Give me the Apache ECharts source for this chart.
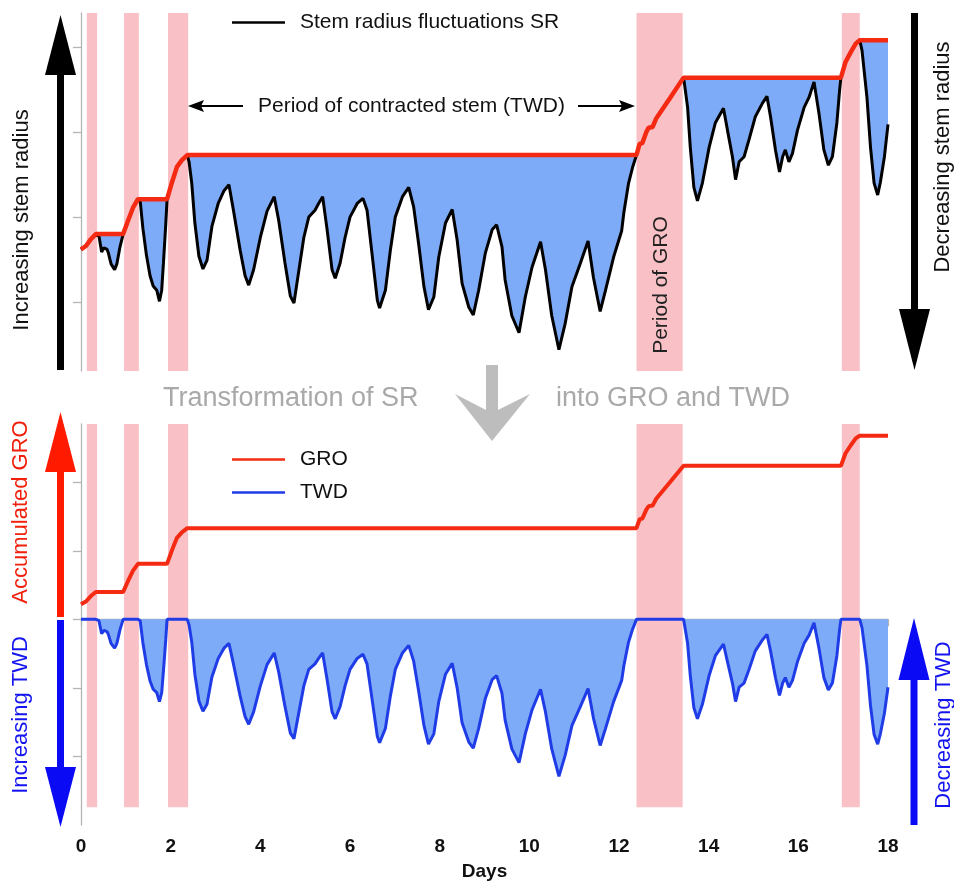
<!DOCTYPE html>
<html>
<head>
<meta charset="utf-8">
<title>Stem radius, GRO and TWD</title>
<script src="https://cdn.jsdelivr.net/npm/echarts@6/dist/echarts.min.js"></script>
<style>
  html, body { margin: 0; padding: 0; background: #fff; }
  #chart { width: 954px; height: 884px; }
</style>
</head>
<body>
<div id="chart"></div>
<script>
// days of the record (shared by SR and TWD)
const days = [
  0, 0.11, 0.22, 0.33, 0.40, 0.46, 0.51, 0.58, 0.61, 0.67,
  0.75, 0.80, 0.87, 0.94, 1.05, 1.16, 1.27, 1.32, 1.38, 1.46,
  1.54, 1.61, 1.69, 1.75, 1.80, 1.84, 1.89, 1.92, 2.03, 2.14,
  2.25, 2.37, 2.41, 2.47, 2.54, 2.63, 2.72, 2.81, 2.92, 3.06,
  3.19, 3.30, 3.40, 3.55, 3.66, 3.74, 3.85, 4.00, 4.15, 4.31,
  4.41, 4.55, 4.67, 4.75, 4.85, 4.97, 5.08, 5.22, 5.30, 5.39,
  5.49, 5.60, 5.67, 5.78, 5.89, 6.00, 6.16, 6.29, 6.38, 6.50,
  6.61, 6.66, 6.79, 6.90, 7.01, 7.17, 7.31, 7.42, 7.53, 7.65,
  7.75, 7.87, 7.98, 8.13, 8.28, 8.39, 8.50, 8.65, 8.75, 8.87,
  9.02, 9.17, 9.27, 9.39, 9.46, 9.61, 9.77, 9.91, 10.06, 10.25,
  10.36, 10.50, 10.66, 10.80, 10.95, 11.14, 11.31, 11.43, 11.58, 11.70,
  11.88, 12.06, 12.11, 12.21, 12.30, 12.39, 12.46, 12.52, 12.61, 12.66,
  12.75, 12.83, 13.15, 13.44, 13.48, 13.53, 13.59, 13.67, 13.75, 13.86,
  14.01, 14.15, 14.33, 14.42, 14.53, 14.60, 14.68, 14.79, 14.90, 15.04,
  15.20, 15.30, 15.38, 15.49, 15.58, 15.65, 15.71, 15.79, 15.87, 15.98,
  16.13, 16.24, 16.35, 16.46, 16.57, 16.67, 16.76, 16.86, 16.92, 16.95,
  17.05, 17.17, 17.28, 17.37, 17.42, 17.53, 17.61, 17.69, 17.77, 17.83,
  17.92, 18.00
];

// stem radius fluctuations SR (relative units)
const sr = [
  1.62, 1.66, 1.74, 1.80, 1.78, 1.59, 1.64, 1.62, 1.58, 1.45,
  1.38, 1.45, 1.65, 1.80, 1.96, 2.11, 2.21, 2.19, 1.87, 1.55,
  1.31, 1.19, 1.14, 1.01, 1.14, 1.47, 1.91, 2.21, 2.41, 2.59,
  2.67, 2.73, 2.65, 2.40, 1.93, 1.54, 1.39, 1.49, 1.89, 2.16,
  2.31, 2.38, 2.08, 1.61, 1.31, 1.20, 1.38, 1.76, 2.07, 2.24,
  1.96, 1.46, 1.07, 0.99, 1.34, 1.76, 2.00, 2.08, 2.16, 2.24,
  1.85, 1.38, 1.28, 1.46, 1.76, 2.00, 2.16, 2.22, 2.08, 1.53,
  1.02, 0.93, 1.14, 1.61, 2.00, 2.24, 2.35, 2.12, 1.69, 1.18,
  0.91, 1.06, 1.53, 1.93, 2.09, 1.73, 1.22, 0.94, 0.85, 1.14,
  1.58, 1.85, 1.91, 1.65, 1.26, 0.84, 0.64, 1.06, 1.41, 1.71,
  1.38, 0.84, 0.44, 0.75, 1.18, 1.46, 1.72, 1.29, 0.89, 1.14,
  1.53, 1.84, 2.06, 2.39, 2.58, 2.73, 2.86, 2.87, 3.00, 3.05,
  3.06, 3.16, 3.41, 3.64, 3.49, 3.29, 2.82, 2.35, 2.19, 2.40,
  2.82, 3.11, 3.28, 3.02, 2.71, 2.44, 2.65, 2.71, 2.91, 3.18,
  3.34, 3.42, 3.18, 2.79, 2.53, 2.71, 2.79, 2.65, 2.75, 3.02,
  3.29, 3.41, 3.59, 3.22, 2.79, 2.61, 2.71, 3.11, 3.49, 3.64,
  3.82, 3.94, 4.04, 4.08, 3.96, 3.41, 2.82, 2.40, 2.26, 2.41,
  2.71, 3.09
];

// tree water deficit TWD (same units, 0 = fully hydrated)
const twd = [
  0, 0, 0, 0, -0.02, -0.21, -0.16, -0.18, -0.22, -0.35,
  -0.42, -0.35, -0.15, 0, 0, 0, 0, -0.02, -0.34, -0.66,
  -0.90, -1.02, -1.07, -1.20, -1.07, -0.74, -0.30, 0, 0, 0,
  0, 0, -0.08, -0.33, -0.80, -1.19, -1.34, -1.24, -0.84, -0.57,
  -0.42, -0.35, -0.65, -1.12, -1.42, -1.53, -1.35, -0.97, -0.66, -0.49,
  -0.77, -1.27, -1.66, -1.74, -1.39, -0.97, -0.73, -0.65, -0.57, -0.49,
  -0.88, -1.35, -1.45, -1.27, -0.97, -0.73, -0.57, -0.51, -0.65, -1.20,
  -1.71, -1.80, -1.59, -1.12, -0.73, -0.49, -0.38, -0.61, -1.04, -1.55,
  -1.82, -1.67, -1.20, -0.80, -0.64, -1.00, -1.51, -1.79, -1.88, -1.59,
  -1.15, -0.88, -0.82, -1.08, -1.47, -1.89, -2.09, -1.67, -1.32, -1.02,
  -1.35, -1.89, -2.29, -1.98, -1.55, -1.27, -1.01, -1.44, -1.84, -1.59,
  -1.20, -0.89, -0.67, -0.34, -0.15, 0, 0, 0, 0, 0,
  0, 0, 0, 0, -0.15, -0.35, -0.82, -1.29, -1.45, -1.24,
  -0.82, -0.53, -0.36, -0.62, -0.93, -1.20, -0.99, -0.93, -0.73, -0.46,
  -0.30, -0.22, -0.46, -0.85, -1.11, -0.93, -0.85, -0.99, -0.89, -0.62,
  -0.35, -0.23, -0.05, -0.42, -0.85, -1.03, -0.93, -0.53, -0.15, 0,
  0, 0, 0, 0, -0.12, -0.67, -1.26, -1.68, -1.82, -1.67,
  -1.37, -0.99
];

// growth line GRO (running maximum of SR), breakpoints
const groDays = [0, 0.11, 0.22, 0.33, 0.94, 1.05, 1.16, 1.27, 1.92, 2.03, 2.14, 2.25, 2.37,
  12.39, 12.46, 12.52, 12.61, 12.66, 12.75, 12.83, 13.15, 13.44, 16.95, 17.05, 17.17, 17.28, 17.37, 18.00];
const groVals = [1.62, 1.66, 1.74, 1.80, 1.80, 1.96, 2.11, 2.21, 2.21, 2.41, 2.59, 2.67, 2.73,
  2.73, 2.86, 2.87, 3.00, 3.05, 3.06, 3.16, 3.41, 3.64, 3.64, 3.82, 3.94, 4.04, 4.08, 4.08];

// periods of growth (start day, end day)
const groPeriods = [[0.13, 0.36], [0.96, 1.29], [1.94, 2.39], [12.39, 13.42], [16.97, 17.37]];

const dayTicks = [0, 2, 4, 6, 8, 10, 12, 14, 16, 18];

const FONT = '"Liberation Sans", Arial, Helvetica, sans-serif';
const PINK = '#f9c0c6';
const FILL = '#7eabf7';
const RED = '#f52a12';
const BLUE = '#1f3ce6';
const AXIS = '#b4b4b4';

const srData = days.map((d, i) => [d, sr[i]]);
const twdData = days.map((d, i) => [d, twd[i]]);
const groData = groDays.map((d, i) => [d, groVals[i]]);

function bandRenderer(yTop, yBottom) {
  return function (params, api) {
    const a = api.coord([api.value(0), yTop]);
    const b = api.coord([api.value(1), yBottom]);
    return {
      type: 'rect',
      shape: { x: a[0], y: a[1], width: b[0] - a[0], height: b[1] - a[1] },
      style: { fill: PINK }
    };
  };
}

// decoration helpers (pixel positions of the annotations)
function vArrow(x, tail, tip, color, headLen) {
  const dir = tip < tail ? -1 : 1;
  const base = tip - dir * headLen;
  return [
    { type: 'rect', z: 100, shape: { x: x - 3.5, y: Math.min(tail, base), width: 7, height: Math.abs(base - tail) }, style: { fill: color } },
    { type: 'polygon', z: 100, shape: { points: [[x, tip], [x - 15.5, base], [x + 15.5, base]] }, style: { fill: color } }
  ];
}
function txt(text, x, y, size, color, rotated, align) {
  return {
    type: 'text', z: 100, x: x, y: y, rotation: rotated ? Math.PI / 2 : 0,
    style: { text: text, fill: color, fontSize: size, fontFamily: FONT,
      align: align || 'center', verticalAlign: 'middle' }
  };
}

const elements = [].concat(
  vArrow(60.5, 370, 15, '#000', 60),
  vArrow(914.5, 13, 370, '#000', 61),
  vArrow(60.5, 617, 412, '#ff1a00', 60),
  vArrow(60.5, 620, 827, '#0a0af5', 60),
  vArrow(914, 825, 618, '#0a0af5', 62),
  [
    { type: 'line', z: 100, shape: { x1: 200, y1: 106, x2: 243, y2: 106 }, style: { stroke: '#000', lineWidth: 2 } },
    { type: 'polygon', z: 100, shape: { points: [[188, 106], [204, 100], [201, 106], [204, 112]] }, style: { fill: '#000' } },
    { type: 'line', z: 100, shape: { x1: 578, y1: 106, x2: 623, y2: 106 }, style: { stroke: '#000', lineWidth: 2 } },
    { type: 'polygon', z: 100, shape: { points: [[635, 106], [619, 100], [622, 106], [619, 112]] }, style: { fill: '#000' } },
    { type: 'polygon', z: 100, shape: { points: [[486, 365], [498, 365], [498, 410], [530, 394], [492, 441], [455, 394], [486, 410]] }, style: { fill: '#bdbdbd' } },
    txt('Period of contracted stem (TWD)', 258, 106, 21, '#111', false, 'left'),
    txt('Period of GRO', 661, 285, 21, '#222', true),
    txt('Increasing stem radius', 22, 220, 22, '#111', true),
    txt('Decreasing stem radius', 943, 157, 22, '#111', true),
    txt('Transformation of SR', 163, 399, 27, '#a9a9a9', false, 'left'),
    txt('into GRO and TWD', 556, 399, 27, '#a9a9a9', false, 'left'),
    txt('Accumulated GRO', 21, 512, 22, '#f0200c', true),
    txt('Increasing TWD', 21, 715, 22, '#1414f0', true),
    txt('Decreasing TWD', 944, 725, 22, '#1414f0', true)
  ]
);

const chart = echarts.init(document.getElementById('chart'), null, { renderer: 'canvas' });

chart.setOption({
  animation: false,
  backgroundColor: '#fff',
  textStyle: { fontFamily: FONT },
  grid: [
    { left: 81, right: 66, top: 13, height: 358 },
    { left: 81, right: 66, top: 424, height: 401 }
  ],
  xAxis: [
    { gridIndex: 0, type: 'value', min: 0, max: 18, show: false },
    {
      gridIndex: 1, type: 'value', min: 0, max: 18, interval: 2,
      axisLine: { show: true, lineStyle: { color: AXIS, width: 1.3 } },
      axisTick: { show: true, length: 7, lineStyle: { color: AXIS, width: 1.3 } },
      axisLabel: { fontSize: 19, fontWeight: 'bold', color: '#111', margin: 12,
        formatter: v => (dayTicks.indexOf(v) >= 0 ? String(v) : '') },
      splitLine: { show: false },
      name: 'Days', nameLocation: 'middle', nameGap: 37,
      nameTextStyle: { fontSize: 19, fontWeight: 'bold', color: '#111' }
    }
  ],
  yAxis: [
    {
      gridIndex: 0, type: 'value', min: 0.19, max: 4.4,
      axisLine: { show: true, lineStyle: { color: AXIS, width: 1.3 } },
      axisTick: { show: true, length: 8, customValues: [1, 2, 3, 4], lineStyle: { color: AXIS, width: 1.3 } },
      axisLabel: { show: false }, splitLine: { show: false }
    },
    {
      gridIndex: 1, type: 'value', min: -3, max: 2.85,
      axisLine: { show: true, lineStyle: { color: AXIS, width: 1.3 } },
      axisTick: { show: true, length: 8, customValues: [-2, -1, 0, 1, 2], lineStyle: { color: AXIS, width: 1.3 } },
      axisLabel: { show: false }, splitLine: { show: false }
    },
    // accumulated GRO is shown on its own (hidden) scale, same units, shifted baseline
    { gridIndex: 1, type: 'value', min: -1.60, max: 4.25, show: false }
  ],
  legend: [
    {
      data: [{ name: 'Stem radius fluctuations SR', icon: 'rect' }], left: 232, top: 12, padding: 0,
      itemWidth: 53, itemHeight: 2.5, selectedMode: false,
      textStyle: { fontSize: 21, color: '#111', padding: [0, 0, 0, 10] }
    },
    {
      data: [{ name: 'GRO', icon: 'rect' }, { name: 'TWD', icon: 'rect' }],
      orient: 'vertical', left: 232, top: 449, padding: 0,
      itemGap: 12, itemWidth: 53, itemHeight: 2.5, selectedMode: false,
      textStyle: { fontSize: 21, color: '#111', padding: [0, 0, 0, 10] }
    }
  ],
  graphic: { elements: elements },
  series: [
    {
      type: 'custom', name: 'growth periods', xAxisIndex: 0, yAxisIndex: 0, silent: true, z: 1,
      encode: { x: [0, 1] }, data: groPeriods, renderItem: bandRenderer(4.4, 0.19)
    },
    {
      type: 'custom', name: 'contraction', xAxisIndex: 0, yAxisIndex: 0, silent: true, z: 2, clip: true,
      data: [[0, 0]],
      renderItem: function (params, api) {
        const pts = srData.map(p => api.coord(p));
        for (let i = groData.length - 1; i >= 0; i--) pts.push(api.coord(groData[i]));
        return { type: 'polygon', shape: { points: pts }, style: { fill: FILL } };
      }
    },
    {
      type: 'line', name: 'Stem radius fluctuations SR', xAxisIndex: 0, yAxisIndex: 0, z: 3,
      data: srData, symbol: 'none', lineStyle: { color: '#000', width: 3 }, itemStyle: { color: '#000' }
    },
    {
      type: 'line', name: 'GRO line', xAxisIndex: 0, yAxisIndex: 0, z: 4,
      data: groData, symbol: 'none', lineStyle: { color: RED, width: 4.5 }, itemStyle: { color: RED }
    },
    {
      type: 'custom', name: 'growth periods ', xAxisIndex: 1, yAxisIndex: 1, silent: true, z: 1,
      encode: { x: [0, 1] }, data: groPeriods, renderItem: bandRenderer(2.85, -2.74)
    },
    {
      type: 'line', name: 'TWD', xAxisIndex: 1, yAxisIndex: 1, z: 3,
      data: twdData, symbol: 'none',
      lineStyle: { color: BLUE, width: 3 }, itemStyle: { color: BLUE },
      areaStyle: { color: FILL, opacity: 1 }
    },
    {
      type: 'line', name: 'GRO', xAxisIndex: 1, yAxisIndex: 2, z: 4,
      data: groData, symbol: 'none', lineStyle: { color: RED, width: 4 }, itemStyle: { color: RED }
    }
  ]
});
</script>
</body>
</html>
